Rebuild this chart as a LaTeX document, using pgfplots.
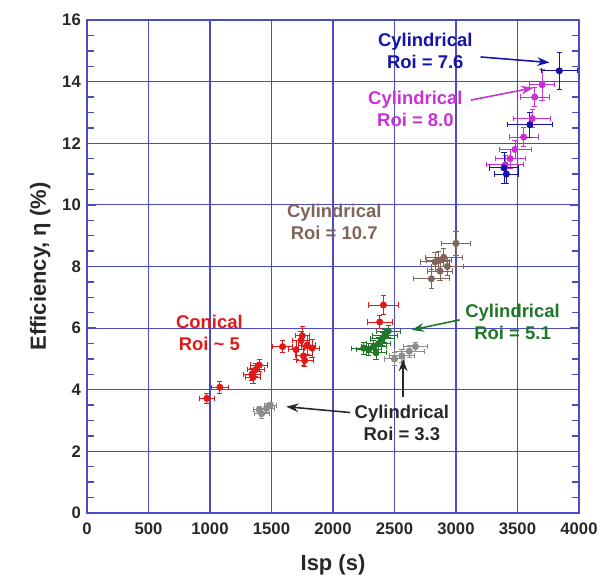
\documentclass[border=0pt]{standalone}
\usepackage{fontspec}
\setmainfont{Liberation Sans}
\usepackage{pgfplots}
\pgfplotsset{compat=1.18}
\usetikzlibrary{arrows.meta}

\definecolor{gridblue}{RGB}{75,75,195}
\definecolor{cylblue}{RGB}{20,20,170}
\definecolor{cylmag}{RGB}{200,50,210}
\definecolor{cylbrown}{RGB}{130,100,90}
\definecolor{conred}{RGB}{225,25,25}
\definecolor{cylgreen}{RGB}{30,120,40}
\definecolor{cylgray}{RGB}{140,140,140}
\definecolor{txtgray}{RGB}{40,40,40}

\pgfplotstableread{
x y ex ey
3840 14.35 150 0.6
3600 12.6 180 0.4
3390 11.2 120 0.5
3410 11.0 100 0.3
}\blue
\pgfplotstableread{
x y ex ey
3700 13.9 100 0.5
3640 13.5 120 0.3
3620 12.8 150 0.3
3550 12.2 120 0.3
3480 11.8 130 0.3
3440 11.5 120 0.3
3400 11.3 150 0.3
}\magenta
\pgfplotstableread{
x y ex ey
3000 8.75 120 0.4
2900 8.3 150 0.3
2830 8.15 120 0.3
2930 8.0 130 0.3
2870 7.85 100 0.3
2800 7.6 150 0.3
2860 8.2 100 0.3
}\brown
\pgfplotstableread{
x y ex ey
975 3.72 60 0.15
1080 4.08 70 0.2
1340 4.5 70 0.2
1370 4.65 70 0.2
1400 4.8 70 0.2
1350 4.4 60 0.2
1590 5.4 80 0.2
1700 5.3 60 0.3
1740 5.6 70 0.3
1760 5.1 70 0.3
1790 5.45 70 0.3
1770 4.95 70 0.2
1830 5.35 60 0.3
1750 5.75 60 0.3
2410 6.75 120 0.3
2380 6.2 100 0.2
}\red
\pgfplotstableread{
x y ex ey
2450 5.9 100 0.2
2420 5.75 100 0.2
2400 5.65 100 0.2
2370 5.5 100 0.2
2330 5.4 100 0.2
2290 5.3 100 0.2
2250 5.35 100 0.2
2350 5.2 80 0.2
}\green
\pgfplotstableread{
x y ex ey
2560 5.1 100 0.2
2620 5.25 120 0.2
2500 5.0 80 0.2
2670 5.4 100 0.15
1420 3.22 60 0.15
1460 3.4 60 0.15
1490 3.5 50 0.1
1400 3.35 50 0.1
}\gray

\pgfplotsset{
  eb/.style={only marks, mark=*, mark size=1.8pt, color=#1,
    error bars/.cd, x dir=both, x explicit, y dir=both, y explicit,
    error bar style={color=#1, line width=0.5pt},
    error mark options={rotate=90, mark size=1.5pt, color=#1}},
}

\begin{document}
\begin{tikzpicture}
\begin{axis}[
    name=ax,
    scale only axis,
    width=9.84cm, height=9.86cm,
    xmin=0, xmax=4000, ymin=0, ymax=16,
    xtick={0,500,...,4000},
    ytick={0,2,...,16},
    minor y tick num=3,
    tick align=inside,
    major tick length=5pt, minor tick length=4pt,
    tick style={color=gridblue, line width=0.8pt},
    minor tick style={color=gridblue, line width=0.8pt},
    grid=major,
    grid style={gridblue, line width=0.7pt},
    axis line style={gridblue, line width=1.1pt},
    /pgf/number format/assume math mode=true,
    /pgf/number format/1000 sep={},
    ticklabel style={font=\fontsize{9.5}{11}\selectfont\bfseries, text=txtgray},
    xticklabel style={yshift=-2pt},
    xlabel={Isp (s)},
    ylabel={Efficiency, η (\%)},
    label style={font=\fontsize{12.5}{14}\selectfont\bfseries, text=txtgray},
    xlabel style={at={(axis description cs:0.5,-0.105)}, anchor=center},
    ylabel style={at={(axis description cs:-0.095,0.5)}, anchor=center},
    clip=false,
]
\addplot[eb=cylgray] table[x=x, y=y, x error=ex, y error=ey] {\gray};
\addplot[eb=cylgreen] table[x=x, y=y, x error=ex, y error=ey] {\green};
\addplot[eb=cylbrown] table[x=x, y=y, x error=ex, y error=ey] {\brown};
\addplot[eb=conred] table[x=x, y=y, x error=ex, y error=ey] {\red};
\addplot[eb=cylmag] table[x=x, y=y, x error=ex, y error=ey] {\magenta};
\addplot[eb=cylblue] table[x=x, y=y, x error=ex, y error=ey] {\blue};

\tikzset{lab/.style={font=\fontsize{10.5}{12.5}\selectfont\bfseries, align=center}}
\node[lab, text=cylblue] at (axis cs:2750,15.0) {Cylindrical\\Roi = 7.6};
\draw[cylblue, line width=0.9pt, -{Stealth[length=7pt,width=5pt]}] (axis cs:3200,14.8) -- (axis cs:3760,14.62);
\node[lab, text=cylmag] at (axis cs:2670,13.1) {Cylindrical\\Roi = 8.0};
\draw[cylmag, line width=0.9pt, -{Stealth[length=7pt,width=5pt]}] (axis cs:3120,13.4) -- (axis cs:3630,13.8);
\node[lab, text=cylbrown] at (axis cs:2010,9.45) {Cylindrical\\Roi = 10.7};
\node[lab, text=conred] at (axis cs:995,5.85) {Conical\\Roi \textasciitilde{} 5};
\node[lab, text=cylgreen] at (axis cs:3460,6.2) {Cylindrical\\Roi = 5.1};
\draw[cylgreen, line width=0.9pt, -{Stealth[length=7pt,width=5pt]}] (axis cs:3030,6.27) -- (axis cs:2640,5.94);
\node[lab, text=txtgray] at (axis cs:2560,2.92) {Cylindrical\\Roi = 3.3};
\draw[txtgray, line width=0.9pt, -{Stealth[length=7pt,width=5pt]}] (axis cs:2570,3.75) -- (axis cs:2570,5.0);
\draw[txtgray, line width=0.9pt, -{Stealth[length=7pt,width=5pt]}] (axis cs:2140,3.26) -- (axis cs:1620,3.45);
\end{axis}
\pgfresetboundingbox
\path[use as bounding box] ([shift={(-1.74cm,-1.38cm)}]ax.south west) rectangle ([shift={(0.42cm,0.4cm)}]ax.north east);
\end{tikzpicture}
\end{document}
